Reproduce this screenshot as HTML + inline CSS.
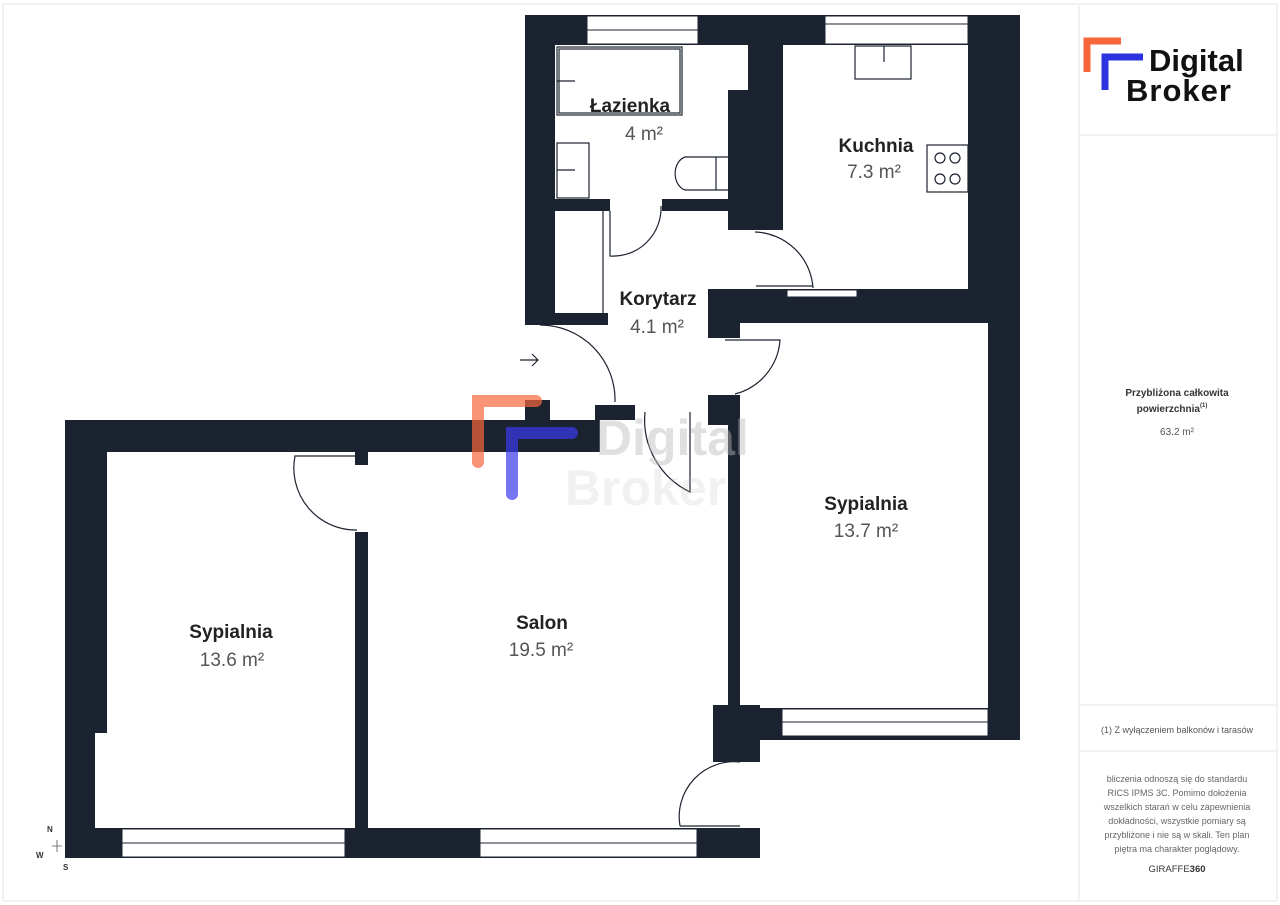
<!DOCTYPE html>
<html><head><meta charset="utf-8"><style>
body{margin:0;background:#fff;width:1280px;height:905px;overflow:hidden;font-family:"Liberation Sans",sans-serif}
svg{position:absolute;left:0;top:0}
</style></head><body>
<svg width="1280" height="905" viewBox="0 0 1280 905" font-family="Liberation Sans, sans-serif">
<rect x="0" y="0" width="1280" height="905" fill="#fff"/>
<rect x="3" y="4" width="1274" height="897" fill="none" stroke="#e6e6e6"/>
<g fill="#1c2330">
<rect x="525" y="15" width="495" height="30"/>
<rect x="525" y="15" width="30" height="310"/>
<rect x="748" y="45" width="35" height="50"/>
<rect x="728" y="90" width="55" height="140"/>
<rect x="555" y="199" width="55" height="12"/>
<rect x="662" y="199" width="66" height="12"/>
<rect x="555" y="313" width="53" height="12"/>
<rect x="968" y="15" width="52" height="275"/>
<rect x="708" y="289" width="312" height="34"/>
<rect x="708" y="289" width="32" height="49"/>
<rect x="988" y="289" width="32" height="451"/>
<rect x="708" y="395" width="32" height="30"/>
<rect x="728" y="400" width="12" height="305"/>
<rect x="713" y="705" width="47" height="57"/>
<rect x="760" y="708" width="260" height="32"/>
<rect x="65" y="420" width="485" height="32"/>
<rect x="525" y="400" width="25" height="52"/>
<rect x="550" y="420" width="50" height="32"/>
<rect x="595" y="405" width="40" height="15"/>
<rect x="65" y="420" width="42" height="313"/>
<rect x="65" y="420" width="30" height="438"/>
<rect x="65" y="828" width="695" height="30"/>
<rect x="355" y="452" width="13" height="13"/>
<rect x="355" y="532" width="13" height="296"/>
</g>
<g fill="#fff" stroke="#1c2330" stroke-width="1">
<rect x="587" y="16" width="111" height="28"/>
<line x1="587" y1="30" x2="698" y2="30"/>
<rect x="825" y="16" width="143" height="28"/>
<line x1="825" y1="24" x2="968" y2="24"/>
<rect x="122" y="829" width="223" height="28"/>
<line x1="122" y1="843" x2="345" y2="843"/>
<rect x="480" y="829" width="217" height="28"/>
<line x1="480" y1="843" x2="697" y2="843"/>
<rect x="782" y="709" width="206" height="27"/>
<line x1="782" y1="722" x2="988" y2="722"/>
<rect x="787" y="290" width="70" height="7"/>
</g>
<g fill="none" stroke="#1c2330" stroke-width="1.2">
<rect x="557" y="47" width="125" height="68"/>
<rect x="559" y="49" width="121" height="64"/>
<line x1="557" y1="81" x2="575" y2="81"/>
<rect x="557" y="143" width="32" height="55"/>
<line x1="557" y1="170" x2="575" y2="170"/>
<path d="M728 157 H685 A13 17 0 0 0 685 190 H728 M716 157 V190"/>
<rect x="855" y="46" width="56" height="33"/>
<line x1="884" y1="46" x2="884" y2="62"/>
<rect x="927" y="145" width="41" height="47"/>
<circle cx="940" cy="158" r="5"/><circle cx="955" cy="158" r="5"/>
<circle cx="940" cy="179" r="5"/><circle cx="955" cy="179" r="5"/>
<path d="M610 211 V256 A48 48 0 0 0 661 206"/>
<path d="M603 211 V313"/>
<path d="M755 232 A60 60 0 0 1 813 288 M756 286 H813"/>
<path d="M725 340 H780 A60 60 0 0 1 735 394"/>
<path d="M540 325 A75 75 0 0 1 615 402"/>
<path d="M520 360 H538 M532 354 L538 360 L532 366"/>
<path d="M645 412 A80 80 0 0 0 690 492 V412"/>
<path d="M358 456 H295 A62 62 0 0 0 357 530"/>
<path d="M680 826 A55 55 0 0 1 740 762"/>
<path d="M680 826 H740"/>
</g>
<path d="M478 462 V401 H536" stroke="#f8673c" stroke-width="12" fill="none" stroke-linecap="round" opacity="0.7"/>
<path d="M512 494 V433 H572" stroke="#3a3af0" stroke-width="12" fill="none" stroke-linecap="round" opacity="0.7"/>
<text x="596" y="455" font-size="50" font-weight="bold" fill="#bbb" opacity="0.45">Digital</text>
<text x="565" y="505" font-size="50" font-weight="bold" fill="#bbb" opacity="0.2">Broker</text>
<g text-anchor="middle" fill="#222">
<g font-weight="bold" font-size="19">
<text x="630" y="112">Łazienka</text>
<text x="876" y="152">Kuchnia</text>
<text x="658" y="305">Korytarz</text>
<text x="866" y="510">Sypialnia</text>
<text x="231" y="638">Sypialnia</text>
<text x="542" y="629">Salon</text>
</g>
<g font-size="19" fill="#555">
<text x="644" y="140">4 m²</text>
<text x="874" y="178">7.3 m²</text>
<text x="657" y="333">4.1 m²</text>
<text x="866" y="537">13.7 m²</text>
<text x="232" y="666">13.6 m²</text>
<text x="541" y="656">19.5 m²</text>
</g>
</g>
<g font-size="8" font-weight="bold" fill="#333">
<text x="47" y="832">N</text><text x="36" y="858">W</text><text x="63" y="870">S</text>
<path d="M52 846 L62 846 M57 840 L57 852" stroke="#555" stroke-width="0.8"/>
</g>
<g stroke="#e3e3e3" fill="none">
<line x1="1079" y1="6" x2="1079" y2="900"/>
<line x1="1079" y1="135" x2="1276" y2="135"/>
<line x1="1079" y1="705" x2="1276" y2="705"/>
<line x1="1079" y1="751" x2="1276" y2="751"/>
</g>
<path d="M1087 72 V41 H1121" stroke="#f8673c" stroke-width="7" fill="none"/>
<path d="M1105 90 V57 H1143" stroke="#2b34e0" stroke-width="7" fill="none"/>
<text x="1149" y="71" font-size="31" font-weight="bold" fill="#111">Digital</text>
<text x="1126" y="101" font-size="31" font-weight="bold" fill="#111" letter-spacing="1">Broker</text>
<g text-anchor="middle" font-size="10" fill="#333">
<text x="1177" y="396" font-weight="bold">Przybliżona całkowita</text>
<text x="1172" y="412" font-weight="bold">powierzchnia<tspan font-size="6" dy="-5">(1)</tspan></text>
<text x="1177" y="435" fill="#555">63.2 m²</text>
<text x="1177" y="733" font-size="9" fill="#555">(1) Z wyłączeniem balkonów i tarasów</text>
<g font-size="9" fill="#666">
<text x="1177" y="782">bliczenia odnoszą się do standardu</text>
<text x="1177" y="796">RICS IPMS 3C. Pomimo dołożenia</text>
<text x="1177" y="810">wszelkich starań w celu zapewnienia</text>
<text x="1177" y="824">dokładności, wszystkie pomiary są</text>
<text x="1177" y="838">przybliżone i nie są w skali. Ten plan</text>
<text x="1177" y="852">piętra ma charakter poglądowy.</text>
</g>
<text x="1177" y="872" font-size="9.5" fill="#333">GIRAFFE<tspan font-weight="bold">360</tspan></text>
</g>
</svg>
</body></html>
